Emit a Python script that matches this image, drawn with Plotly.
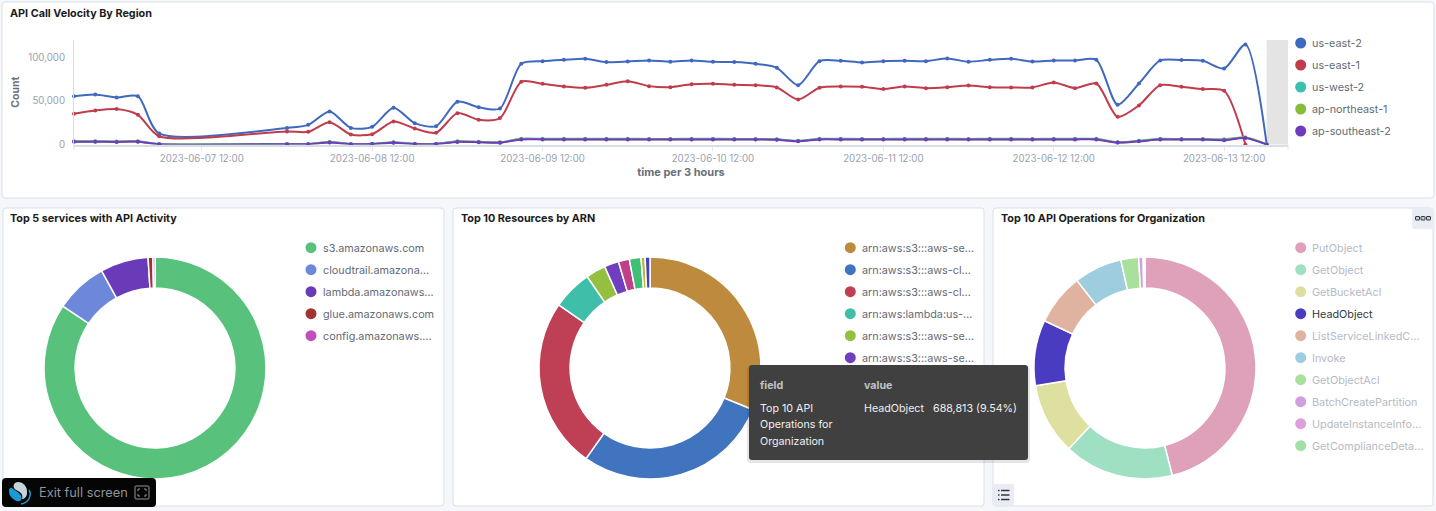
import pandas as pd
import plotly.graph_objects as go

W, H = 1436, 511

# -----------------
# 1. Data
# -----------------
early_times = pd.date_range("2023-06-06 18:00", "2023-06-07 06:00", freq="3h")
late_times = pd.date_range("2023-06-08 00:00", "2023-06-13 18:00", freq="3h")
times = list(early_times) + list(late_times)

regions = ["us-east-2", "us-east-1", "us-west-2", "ap-northeast-1", "ap-southeast-2"]
region_colors = ["#3f68bf", "#c03c4c", "#3bbfb0", "#84bd3a", "#6f3bc0"]

us_east_2 = [55300, 57200, 53800, 55300, 12600,
             19000, 22500, 37800, 19000, 20200, 42000, 24400, 21000, 48900, 42700,
             41200, 92400, 95400, 96900, 98100, 94300, 95000, 96200, 94700, 96200, 94700,
             94300, 92400, 87800, 67900, 95400, 95800, 93900, 95400, 95800, 95400, 98500,
             94700, 96900, 98100, 95000, 96200, 96200, 96900, 45400, 69800, 96200, 96600,
             95800, 87000, 114500, 0]
us_east_1 = [35100, 38900, 40500, 34000, 9500,
             14900, 14500, 25600, 11500, 11800, 26300, 18300, 13400, 35900, 28200,
             30200, 71800, 69500, 66400, 64900, 68300, 72500, 66800, 65600, 69000, 69500,
             68300, 67900, 65300, 51500, 64900, 66400, 66000, 63400, 66400, 64500, 65600,
             67600, 65600, 65300, 65300, 71000, 64500, 69800, 31700, 44700, 67900, 66000,
             63400, 61500, 0, None]
us_west_2 = [3700, 3700, 3400, 3600, 500,
             700, 600, 2900, 700, 800, 2700, 900, 900, 3700, 3100,
             2500, 6600, 6500, 6500, 6500, 6500, 6500, 6400, 6400, 6500, 6500,
             6400, 6400, 6100, 4200, 6500, 6500, 6400, 6400, 6500, 6500, 6600,
             6400, 6500, 6500, 6400, 6500, 6500, 6500, 2600, 4300, 6500, 6300,
             6200, 6000, 7900, 0]
ap_northeast_1 = [3400, 3400, 3200, 3300, 400,
                  500, 500, 2500, 500, 600, 2300, 700, 700, 3300, 2800,
                  2300, 6200, 6100, 6100, 6100, 6100, 6100, 6000, 6000, 6100, 6100,
                  6000, 6000, 5700, 3900, 6100, 6100, 6000, 6000, 6100, 6100, 6200,
                  6000, 6100, 6100, 6000, 6100, 6100, 6100, 2400, 4000, 5900, 5900,
                  5900, 5400, 8000, 0]
ap_southeast_2 = [3200, 3200, 3000, 3200, 300,
                  400, 400, 2200, 400, 500, 2000, 600, 600, 3000, 2600,
                  2100, 5800, 5800, 5800, 5800, 5800, 5800, 5700, 5700, 5800, 5800,
                  5700, 5700, 5400, 3700, 5800, 5800, 5700, 5700, 5800, 5800, 5800,
                  5700, 5800, 5800, 5700, 5800, 5800, 5800, 2200, 3700, 5600, 5600,
                  5600, 5000, 7400, 0]
region_values = [us_east_2, us_east_1, us_west_2, ap_northeast_1, ap_southeast_2]

tick_dates = ["2023-06-07 12:00", "2023-06-08 12:00", "2023-06-09 12:00", "2023-06-10 12:00",
              "2023-06-11 12:00", "2023-06-12 12:00", "2023-06-13 12:00"]

service_labels = ["s3.amazonaws.com", "cloudtrail.amazona…", "lambda.amazonaws…",
                  "glue.amazonaws.com", "config.amazonaws.…"]
service_values = [84.4, 7.6, 7.0, 0.7, 0.3]
service_colors = ["#58c27d", "#6d87db", "#6a3bb8", "#a03232", "#bf50bd"]

arn_labels = ["arn:aws:s3:::aws-se…", "arn:aws:s3:::aws-cl…", "arn:aws:s3:::aws-cl…",
              "arn:aws:lambda:us-…", "arn:aws:s3:::aws-se…", "arn:aws:s3:::aws-se…"]
arn_values = [31.2, 28.7, 24.9, 5.8, 2.9, 2.1, 1.6, 1.7, 0.6, 0.7]
arn_colors = ["#bd8a3e", "#4074bf", "#bf3f55", "#3fbfaa", "#94bf3f",
              "#6f3fbf", "#bf3f88", "#3fbf75", "#bfb23f", "#3f3fbf"]

op_labels = ["PutObject", "GetObject", "GetBucketAcl", "HeadObject", "ListServiceLinkedC…",
             "Invoke", "GetObjectAcl", "BatchCreatePartition", "UpdateInstanceInfo…",
             "GetComplianceDeta…"]
op_values = [46.05, 16.0, 10.4, 9.54, 7.5, 7.0, 2.6, 0.65, 0.14, 0.12]
op_colors = ["#dfa0ba", "#9fe0c3", "#dde09f", "#4a3cc0", "#e0b3a0",
             "#9fcde0", "#a9e09c", "#d09fe0", "#e09fd9", "#9fe0a5"]


# -----------------
# 2. Pixel helpers (the page is a fixed 1436x511 dashboard)
# -----------------
def px(x):
    return x / W


def py(y):
    return 1 - y / H


def rounded(x0, y0, x1, y1, r=3):
    return (f"M{px(x0 + r)},{py(y0)} L{px(x1 - r)},{py(y0)} Q{px(x1)},{py(y0)} {px(x1)},{py(y0 + r)} "
            f"L{px(x1)},{py(y1 - r)} Q{px(x1)},{py(y1)} {px(x1 - r)},{py(y1)} "
            f"L{px(x0 + r)},{py(y1)} Q{px(x0)},{py(y1)} {px(x0)},{py(y1 - r)} "
            f"L{px(x0)},{py(y0 + r)} Q{px(x0)},{py(y0)} {px(x0 + r)},{py(y0)} Z")


shapes = []
notes = []


def box(x0, y0, x1, y1, fill, line="rgba(0,0,0,0)", r=3, layer="above", width=1):
    shapes.append(dict(type="path", xref="paper", yref="paper", path=rounded(x0, y0, x1, y1, r),
                       fillcolor=fill, line=dict(color=line, width=width), layer=layer))


def curve(cmds, fill="rgba(0,0,0,0)", line="rgba(0,0,0,0)", width=1):
    # cmds is a list like ("M", x, y) or ("C", x1, y1, x2, y2, x, y) in page pixels
    parts = []
    for c in cmds:
        pts = [f"{px(c[i])},{py(c[i + 1])}" for i in range(1, len(c), 2)]
        parts.append(c[0] + " ".join(pts))
    shapes.append(dict(type="path", xref="paper", yref="paper", path=" ".join(parts) + (" Z" if fill != "rgba(0,0,0,0)" else ""),
                       fillcolor=fill, line=dict(color=line, width=width)))


def text(x, y, s, size=10.5, color="#343741", bold=False, anchor="left"):
    notes.append(dict(xref="paper", yref="paper", x=px(x), y=py(y), text=f"<b>{s}</b>" if bold else s,
                      showarrow=False, xanchor=anchor, yanchor="middle", align="left",
                      borderpad=0, borderwidth=0,
                      font=dict(family="Inter", size=size, color=color)))


def legend(cx, y0, labels, colors, text_colors=None):
    for i, (label, color) in enumerate(zip(labels, colors)):
        y = y0 + i * 22
        shapes.append(dict(type="circle", xref="paper", yref="paper", x0=px(cx - 5.5), x1=px(cx + 5.5),
                           y0=py(y + 5.5), y1=py(y - 5.5), fillcolor=color, line=dict(width=0)))
        text(cx + 11.5, y + 0.5, label, size=10.8, color=text_colors[i] if text_colors else "#646a77")


# -----------------
# 3. Figure
# -----------------
fig = go.Figure()

for name, values, color in zip(regions, region_values, region_colors):
    fig.add_trace(go.Scatter(x=times, y=values, name=name, mode="lines+markers", cliponaxis=False,
                             line=dict(color=color, width=2, shape="spline", smoothing=0.75),
                             marker=dict(color=color, size=4), showlegend=False))


def donut(values, colors, cx, labels=None):
    fig.add_trace(go.Pie(values=values, labels=labels, hole=0.72, sort=False, direction="clockwise",
                         rotation=0, textinfo="none", showlegend=False,
                         marker=dict(colors=colors, line=dict(color="#ffffff", width=1.5)),
                         domain=dict(x=[px(cx - 111), px(cx + 111)], y=[py(479), py(257)])))


donut(service_values, service_colors, 155, service_labels)
donut(arn_values, arn_colors, 650)
donut(op_values, op_colors, 1145, op_labels)

# panels
box(2, 2, 1434, 198, "#ffffff", "#d9e0ea", layer="below")
box(3, 208, 444, 506, "#ffffff", "#d9e0ea", layer="below")
box(453, 208, 984, 506, "#ffffff", "#d9e0ea", layer="below")
box(993, 208, 1433, 506, "#ffffff", "#d9e0ea", layer="below")

text(10, 13.5, "API Call Velocity By Region", size=10.8, bold=True, color="#1a1c21")
text(10, 218.5, "Top 5 services with API Activity", size=10.8, bold=True, color="#1a1c21")
text(460.5, 218.5, "Top 10 Resources by ARN", size=10.8, bold=True, color="#1a1c21")
text(1000.5, 218.5, "Top 10 API Operations for Organization", size=10.8, bold=True, color="#1a1c21")

legend(1300.7, 43, regions, region_colors)
legend(311, 247.7, service_labels, service_colors)
legend(850.3, 247.7, arn_labels, arn_colors)
legend(1300.7, 247.7, op_labels, op_colors,
       ["#343741" if op == "HeadObject" else "#b5bac4" for op in op_labels])

# small end caps on the time axis
box(73.5, 144.5, 74.5, 150, "#e3e6ef", r=0)
box(1287.5, 144.5, 1288.5, 150, "#e3e6ef", r=0)

# tooltip over the donuts, with a faint shadow
box(747, 366, 1030, 463, "rgba(0,0,0,0.10)", r=4)
box(749, 365, 1028, 460, "#404040", r=3)
text(760, 385, "field", size=10.7, color="#c2c2c2", bold=True)
text(864, 385, "value", size=10.7, color="#c2c2c2", bold=True)
text(760, 408, "Top 10 API", size=10.7, color="#efefef")
text(760, 424.5, "Operations for", size=10.7, color="#efefef")
text(760, 441, "Organization", size=10.7, color="#efefef")
text(864, 408, "HeadObject", size=10.7, color="#efefef")
text(933, 408, "688,813 (9.54%)", size=10.7, color="#efefef")

# panel buttons
box(1412, 208, 1433, 229, "#e9edf3", r=2)
for bx in (1415.5, 1421, 1426.5):
    box(bx, 216.5, bx + 4, 220, "#c9ced8", "#343741", r=0.5)
box(993, 484, 1014, 506, "#e9edf3", r=2)
for by in (490.5, 495, 499.5):
    box(998, by - 0.7, 999.5, by + 0.7, "#343741", r=0.3)
    box(1001, by - 0.7, 1009.5, by + 0.7, "#343741", r=0.3)

# exit full screen bar: logo, label and corner-bracket icon
box(2, 478, 156, 507, "#050505", r=4)
curve([("M", 15, 483), ("C", 20, 480, 28, 485, 27, 493), ("C", 27, 497, 24, 499, 22, 499),
       ("C", 24, 494, 19, 491, 16, 490), ("C", 13, 488, 13, 485, 15, 483)], fill="#c5d3dd")
curve([("M", 9, 491), ("C", 9, 488, 11, 487, 12, 488), ("C", 16, 491, 24, 495, 21, 500),
       ("C", 19, 503, 14, 500, 12, 498), ("C", 10, 496, 9, 494, 9, 491)], fill="#1c9ad6")
curve([("M", 29, 490), ("C", 32, 495, 29, 503, 21, 504)], line="#1c9ad6", width=1.5)
text(39, 492.5, "Exit full screen", size=12.8, color="#8f949c")
box(135, 486, 149, 499, "rgba(0,0,0,0)", "#8f949c", r=1)
curve([("M", 138, 491), ("L", 138, 489), ("L", 140, 489)], line="#8f949c")
curve([("M", 144, 489), ("L", 146, 489), ("L", 146, 491)], line="#8f949c")
curve([("M", 146, 494), ("L", 146, 496), ("L", 144, 496)], line="#8f949c")
curve([("M", 140, 496), ("L", 138, 496), ("L", 138, 494)], line="#8f949c")

fig.update_layout(
    width=W, height=H, margin=dict(l=0, r=0, t=0, b=0, autoexpand=False),
    paper_bgcolor="#f5f7fa", plot_bgcolor="rgba(0,0,0,0)",
    font=dict(family="Inter", size=10, color="#98a2b3"),
    hovermode=False, shapes=shapes, annotations=notes,
    xaxis=dict(domain=[px(74), px(1288)], range=["2023-06-06 18:00", "2023-06-13 21:00"], automargin=False,
               tickvals=tick_dates, ticktext=tick_dates, ticks="outside", ticklen=4,
               tickcolor="#e3e6ef", showgrid=False, zeroline=False, showline=True,
               linecolor="#d9dde6", linewidth=2, tickfont=dict(size=9.7, color="#98a2b3"),
               title=dict(text="<b>time per 3 hours</b>", standoff=5, font=dict(size=11, color="#69707d"))),
    yaxis=dict(domain=[py(144.5), py(40)], range=[0, 119600], tickvals=[0, 50000, 100000], automargin=False,
               tickformat=",", ticks="", showgrid=False, zeroline=False, showline=True,
               linecolor="#d9dde6", linewidth=1, tickfont=dict(size=9.7, color="#98a2b3"), ticklabelstandoff=6,
               title=dict(text="<b>Count</b>", standoff=6, font=dict(size=10.5, color="#69707d"))),
)

# grey band after the last full bucket
fig.add_vrect(x0="2023-06-13 18:00", x1="2023-06-13 21:00", fillcolor="#e4e4e4", line_width=0, layer="below")

fig.write_html("out.html", config={"displayModeBar": False},
               post_script="document.body.style.margin='0';")
